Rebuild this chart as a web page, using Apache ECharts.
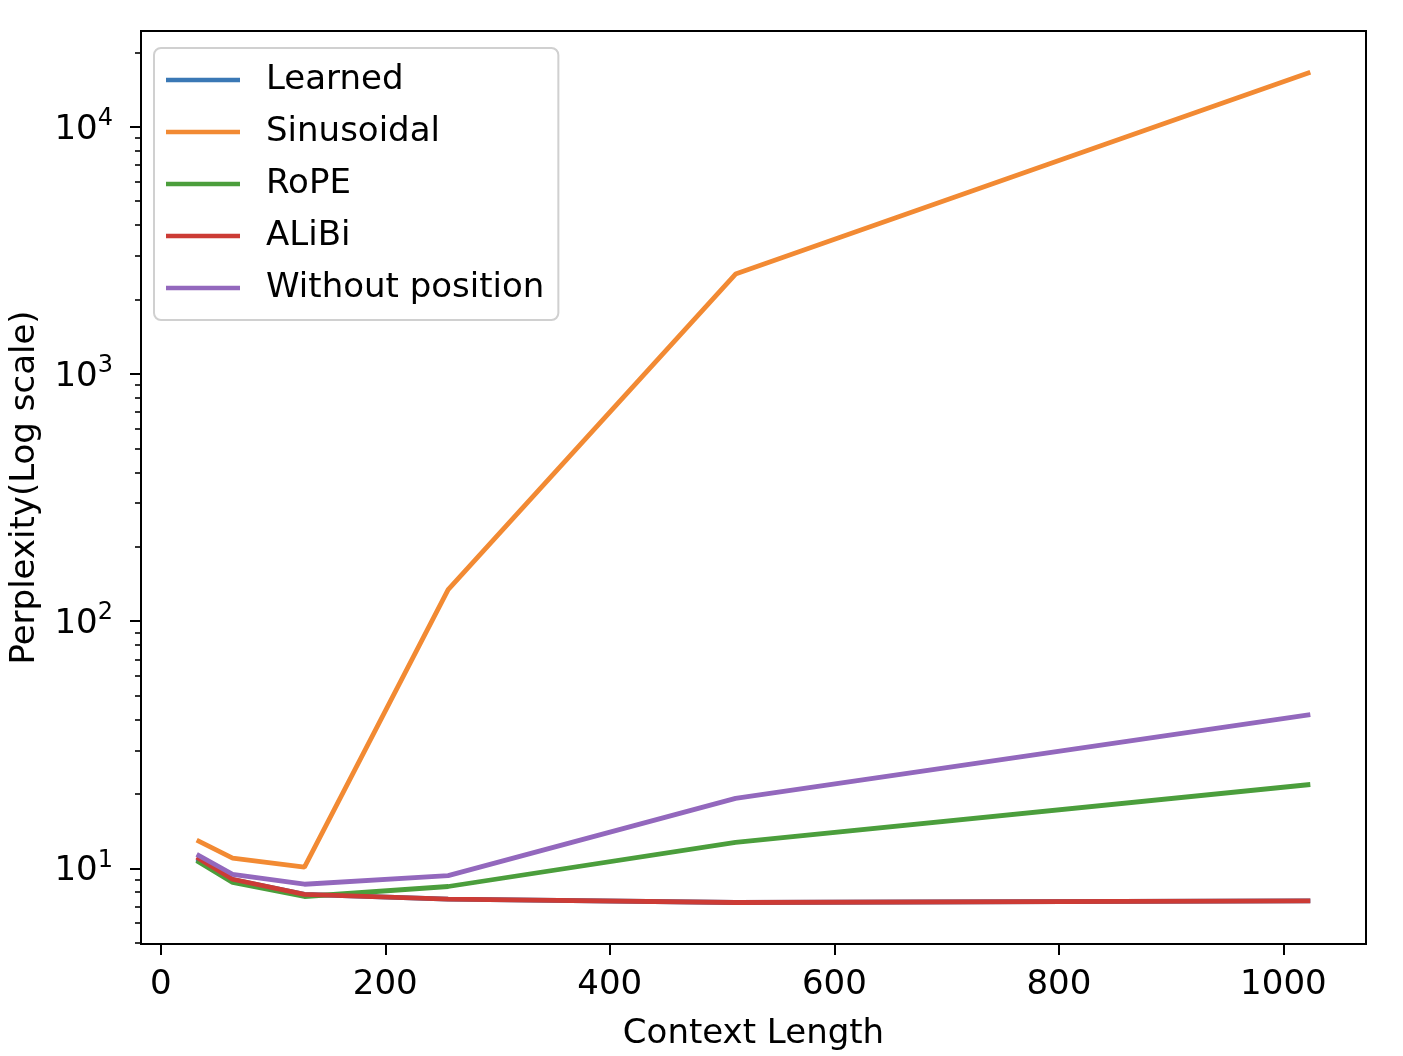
<!DOCTYPE html>
<html>
<head>
<meta charset="utf-8">
<script src="https://cdn.jsdelivr.net/npm/echarts@6/dist/echarts.min.js"></script>
<style>
html,body{margin:0;padding:0;background:#fff;}
#chart{width:1403px;height:1056px;}
</style>
</head>
<body>
<div id="chart"></div>
<script>
const contextLengths = [32, 64, 128, 256, 512, 1024];
const learned     = [10.9, 9.0, 7.85, 7.5, 7.27, 7.38];
const sinusoidal  = [13.0, 11.0, 10.1, 134, 2536, 16610];
const rope        = [10.74, 8.76, 7.69, 8.44, 12.73, 21.83];
const alibi       = [11.08, 9.03, 7.85, 7.5, 7.27, 7.38];
const withoutPos  = [11.39, 9.46, 8.62, 9.34, 19.17, 41.83];

const seriesNames = ['Learned', 'Sinusoidal', 'RoPE', 'ALiBi', 'Without position'];
const seriesColors = ['#3a78b5', '#f28a33', '#4b9e3c', '#cc3b35', '#9368bd'];
const seriesData = [learned, sinusoidal, rope, alibi, withoutPos];

const xTicks = [0, 200, 400, 600, 800, 1000];
const yMajorTicks = [10, 100, 1000, 10000];
const yMinorTicks = [5, 6, 7, 8, 9, 20, 30, 40, 50, 60, 70, 80, 90,
  200, 300, 400, 500, 600, 700, 800, 900,
  2000, 3000, 4000, 5000, 6000, 7000, 8000, 9000, 20000];

const X_MIN = -17.6, X_MAX = 1073.6;
const Y_MIN = 4.94, Y_MAX = 24400;
const FONT = 'DejaVu Sans';
const FS = 34;

const chart = echarts.init(document.getElementById('chart'), null, {renderer: 'canvas'});

const series = seriesNames.map((name, i) => ({
  name: name,
  type: 'line',
  data: contextLengths.map((x, j) => [x, seriesData[i][j]]),
  showSymbol: false,
  symbol: 'none',
  lineStyle: {width: 4.8, color: seriesColors[i]},
  itemStyle: {color: seriesColors[i]},
  emphasis: {disabled: true},
  animation: false,
  z: 2 + i
}));

const option = {
  animation: false,
  backgroundColor: '#ffffff',
  textStyle: {fontFamily: FONT},
  grid: {
    left: 138, right: 37, top: 31, bottom: 110,
    show: true, borderColor: '#000', borderWidth: 2, backgroundColor: 'transparent'
  },
  legend: {
    orient: 'vertical',
    left: 154, top: 48,
    padding: [15, 14, 15, 12],
    icon: 'rect',
    itemWidth: 74, itemHeight: 4.5, itemGap: 18,
    backgroundColor: 'rgba(255,255,255,0.85)',
    borderColor: '#d0d0d0', borderWidth: 2, borderRadius: 7,
    textStyle: {fontFamily: FONT, fontSize: FS, color: '#000', lineHeight: 34, padding: [0, 0, 0, 21]},
    data: seriesNames,
    z: 20
  },
  xAxis: {
    type: 'value',
    min: X_MIN, max: X_MAX,
    name: 'Context Length',
    nameLocation: 'middle',
    nameGap: 73,
    nameTextStyle: {fontFamily: FONT, fontSize: FS, color: '#000'},
    axisLine: {show: true, onZero: false, lineStyle: {color: '#000', width: 2}},
    axisTick: {show: true, inside: false, length: 11, customValues: xTicks, lineStyle: {color: '#000', width: 2}},
    axisLabel: {customValues: xTicks, fontFamily: FONT, fontSize: FS, color: '#000', margin: 24,
      formatter: function (v) { return String(v); }},
    splitLine: {show: false}
  },
  yAxis: [{
    type: 'log',
    logBase: 10,
    min: Y_MIN, max: Y_MAX,
    name: 'Perplexity(Log scale)',
    nameLocation: 'middle',
    nameGap: 99,
    nameTextStyle: {fontFamily: FONT, fontSize: FS, color: '#000'},
    axisLine: {show: true, onZero: false, lineStyle: {color: '#000', width: 2}},
    axisTick: {show: true, length: 11, customValues: yMajorTicks, lineStyle: {color: '#000', width: 2}},
    axisLabel: {
      customValues: yMajorTicks,
      margin: 28,
      formatter: function (v) {
        const e = Math.round(Math.log10(v));
        return '{b|10}{s|' + e + '}';
      },
      rich: {
        b: {fontFamily: FONT, fontSize: FS, color: '#000', verticalAlign: 'bottom', lineHeight: 40, padding: [12, 0, 0, 0]},
        s: {fontFamily: FONT, fontSize: 24, color: '#000', verticalAlign: 'top', lineHeight: 40, padding: [0, 0, 14, 0]}
      }
    },
    splitLine: {show: false}
  }, {
    type: 'log',
    logBase: 10,
    min: Y_MIN, max: Y_MAX,
    position: 'left',
    offset: 0,
    axisLine: {show: false, onZero: false},
    axisTick: {show: true, length: 6, customValues: yMinorTicks, lineStyle: {color: '#000', width: 1.6}},
    axisLabel: {show: false},
    splitLine: {show: false}
  }],
  series: series
};

chart.setOption(option);
</script>
</body>
</html>
